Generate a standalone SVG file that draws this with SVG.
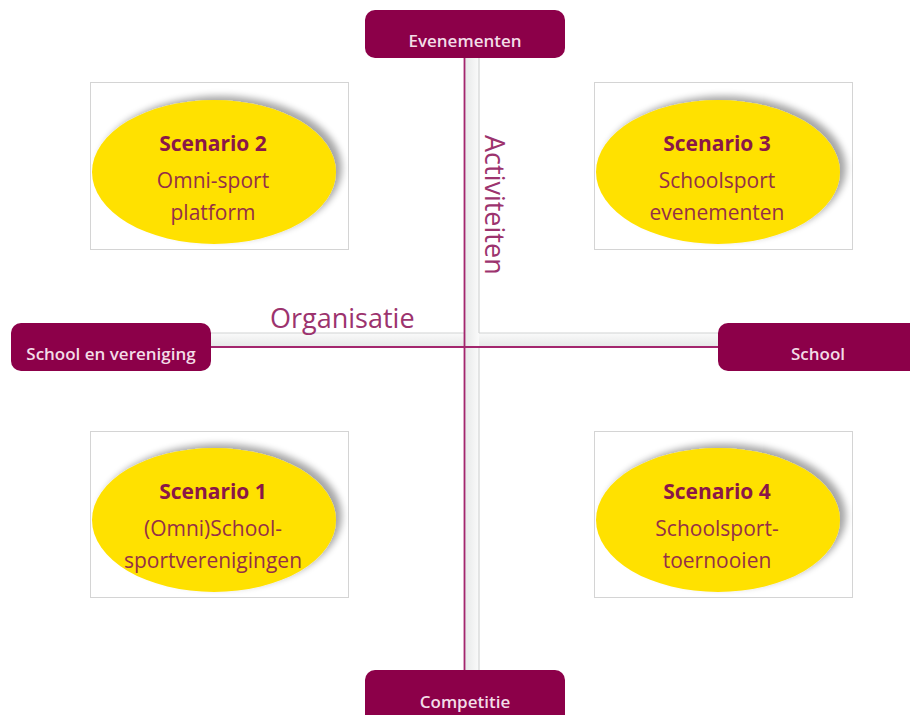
<svg xmlns="http://www.w3.org/2000/svg" width="910" height="715" viewBox="0 0 910 715">
<style>
.lbl{fill:#8C0049;}
.lt{font-family:"Open Sans","Liberation Sans",sans-serif;font-size:17px;font-weight:600;fill:#F3DCE7;text-anchor:middle;}
.card{fill:#FFFFFF;stroke:#D4D4D4;stroke-width:1;}
.ell{fill:#FFE100;}
.t1{font-family:"Open Sans","Liberation Sans",sans-serif;font-size:21px;font-weight:bold;fill:#8A1748;text-anchor:middle;}
.t2{font-family:"Open Sans","Liberation Sans",sans-serif;font-size:21px;fill:#943047;text-anchor:middle;}
.axis{font-family:"Open Sans","Liberation Sans",sans-serif;font-size:27px;fill:#9C336E;}
.edge{stroke:#D2D4D4;stroke-width:1.2;fill:none;}
.pl{stroke:#A3266E;stroke-width:1.8;fill:none;}
</style>
<defs>
<linearGradient id="gh" x1="0" y1="0" x2="0" y2="1">
<stop offset="0" stop-color="#FAFAFA"/><stop offset="1" stop-color="#E6E8E8"/>
</linearGradient>
<linearGradient id="gv" x1="0" y1="0" x2="1" y2="0">
<stop offset="0" stop-color="#E6E8E8"/><stop offset="1" stop-color="#FAFAFA"/>
</linearGradient>
<filter id="sh" x="-20%" y="-30%" width="140%" height="160%">
<feGaussianBlur in="SourceAlpha" stdDeviation="3.5"/>
<feOffset dx="6" dy="-4" result="b"/>
<feComponentTransfer><feFuncA type="linear" slope="0.35"/></feComponentTransfer>
<feMerge><feMergeNode/><feMergeNode in="SourceGraphic"/></feMerge>
</filter>
</defs>
<g id="connectors">
<rect x="211" y="333" width="507" height="14" fill="url(#gh)"/>
<rect x="464" y="58" width="15" height="612" fill="url(#gv)"/>
<path class="edge" d="M211 333H464M479 333H718M479 58V333M479 347V670"/>
<path class="pl" d="M464.5 58V670M211 347H718"/>
<text class="axis" x="270" y="328">Organisatie</text>
<text class="axis" transform="translate(485 135) rotate(90)">Activiteiten</text>
</g>
<g id="evenementen"><rect class="lbl" x="365" y="10" width="200" height="48" rx="10"/><text class="lt" x="465" y="47">Evenementen</text></g>
<g id="school-en-vereniging"><rect class="lbl" x="11" y="323" width="200" height="48" rx="10"/><text class="lt" x="111" y="360">School en vereniging</text></g>
<g id="school"><rect class="lbl" x="718" y="323" width="202" height="48" rx="10"/><text class="lt" x="818" y="360">School</text></g>
<g id="competitie"><rect class="lbl" x="365" y="670" width="200" height="60" rx="10"/><text class="lt" x="465" y="708">Competitie</text></g>
<g id="scenario2">
<rect class="card" x="90.5" y="82.5" width="258" height="167"/>
<ellipse class="ell" cx="214" cy="172" rx="122" ry="72" filter="url(#sh)"/>
<text class="t1" x="213" y="151">Scenario 2</text>
<text class="t2" x="213" y="188">Omni-sport</text>
<text class="t2" x="213" y="220">platform</text>
</g>
<g id="scenario3">
<rect class="card" x="594.5" y="82.5" width="258" height="167"/>
<ellipse class="ell" cx="718" cy="172" rx="122" ry="72" filter="url(#sh)"/>
<text class="t1" x="717" y="151">Scenario 3</text>
<text class="t2" x="717" y="188">Schoolsport</text>
<text class="t2" x="717" y="220">evenementen</text>
</g>
<g id="scenario1">
<rect class="card" x="90.5" y="431.5" width="258" height="166"/>
<ellipse class="ell" cx="214" cy="520" rx="122" ry="72" filter="url(#sh)"/>
<text class="t1" x="213" y="499">Scenario 1</text>
<text class="t2" x="213" y="536">(Omni)School-</text>
<text class="t2" x="213" y="568">sportverenigingen</text>
</g>
<g id="scenario4">
<rect class="card" x="594.5" y="431.5" width="258" height="166"/>
<ellipse class="ell" cx="718" cy="520" rx="122" ry="72" filter="url(#sh)"/>
<text class="t1" x="717" y="499">Scenario 4</text>
<text class="t2" x="717" y="536">Schoolsport-</text>
<text class="t2" x="717" y="568">toernooien</text>
</g>
</svg>
